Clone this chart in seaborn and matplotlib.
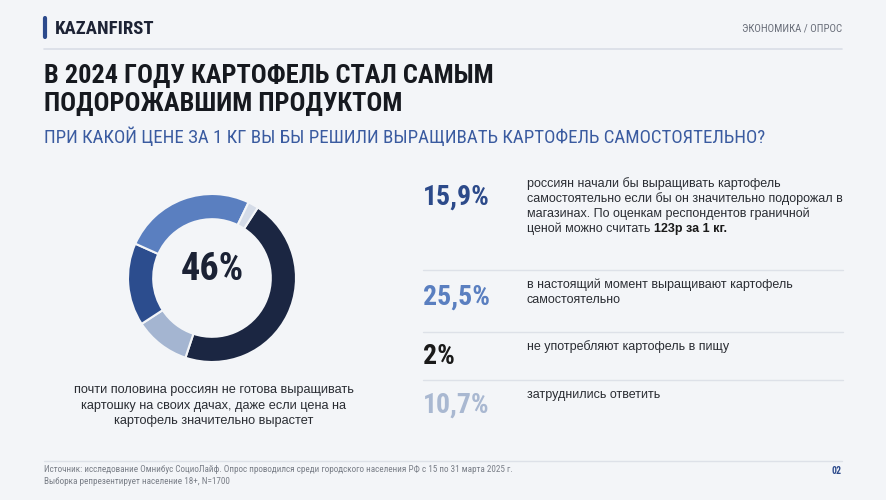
import seaborn as sns
import matplotlib.pyplot as plt

# donut data (clockwise from the dark segment)
donut_labels = ['не готовы', 'затруднились', 'начали бы', 'выращивают', 'не едят']
donut_values = [46, 10.7, 15.9, 25.5, 2]
donut_colors = ['#1b2642', '#a4b5d1', '#2c4d8e', '#5a7fc0', '#d5dce8']

# right panel rows
row_values = [15.9, 25.5, 2, 10.7]
row_colors = ['#2c4a8a', '#5a7fc0', '#1a1a1a', '#a9b8d1']
row_texts = [
    ['россиян начали бы выращивать картофель',
     'самостоятельно если бы он значительно подорожал в',
     'магазинах. По оценкам респондентов граничной',
     'ценой можно считать '],
    ['в настоящий момент выращивают картофель', 'самостоятельно'],
    ['не употребляют картофель в пищу'],
    ['затруднились ответить'],
]
bold_tail = '123р за 1 кг.'

sns.set_theme(style='white')
narrow = 'Roboto Condensed'
plt.rcParams['font.family'] = ['Liberation Sans', 'DejaVu Sans']

BG = '#f3f5f8'
W, H = 886, 500
fig = plt.figure(figsize=(W / 100, H / 100), dpi=100, facecolor=BG)
bg = fig.add_axes([0, 0, 1, 1])
bg.set_xlim(0, W)
bg.set_ylim(H, 0)
bg.axis('off')

# header
bg.plot([45.5, 45.5], [18, 37], color='#2c4a8c', lw=3)
bg.text(55, 28.5, 'KAZANFIRST', fontsize=13.5, fontweight='bold', family=narrow,
        color='#1d2335', va='center')
bg.text(842, 29, 'ЭКОНОМИКА / ОПРОС', fontsize=7.8, family=narrow, color='#6a6f7a',
        va='center', ha='right')
bg.plot([44, 842], [49, 49], color='#d9dee6', lw=1.2)

bg.text(44, 76, 'В 2024 ГОДУ КАРТОФЕЛЬ СТАЛ САМЫМ', fontsize=19, fontweight='bold',
        family=narrow, color='#16191f', va='center')
bg.text(44, 104, 'ПОДОРОЖАВШИМ ПРОДУКТОМ', fontsize=19, fontweight='bold',
        family=narrow, color='#16191f', va='center')
bg.text(44, 137, 'ПРИ КАКОЙ ЦЕНЕ ЗА 1 КГ ВЫ БЫ РЕШИЛИ ВЫРАЩИВАТЬ КАРТОФЕЛЬ САМОСТОЯТЕЛЬНО?',
        fontsize=13.6, family=narrow, color='#3a5ba0', va='center')

# donut
cx, cy, r = 212, 278, 84
ax = fig.add_axes([(cx - r) / W, 1 - (cy + r) / H, 2 * r / W, 2 * r / H])
ax.pie(donut_values, colors=donut_colors, startangle=57, counterclock=False,
       wedgeprops=dict(width=0.3, edgecolor=BG, linewidth=1.5))
ax.set_xlim(-1, 1)
ax.set_ylim(-1, 1)
ax.set_aspect('equal')
ax.axis('off')
ax.text(0, 0.1, f'{donut_values[0]}%', fontsize=27.5, fontweight='bold', family=narrow,
        color='#1b2235', ha='center', va='center')

caption = ['почти половина россиян не готова выращивать',
           'картошку на своих дачах, даже если цена на',
           'картофель значительно вырастет']
for i, line in enumerate(caption):
    bg.text(214, 390 + i * 15.5, line, fontsize=9.2, color='#2a2d33', ha='center', va='center')

# right panel
row_y = [197, 297, 357, 405]
text_y = [184, 285, 347, 395]
for k, (v, c, lines) in enumerate(zip(row_values, row_colors, row_texts)):
    label = f'{v:g}%'.replace('.', ',')
    bg.text(423, row_y[k], label, fontsize=20, family=narrow, fontweight='bold',
            color=c, va='center')
    for j, line in enumerate(lines):
        t = bg.text(527, text_y[k] + j * 15, line, fontsize=9.0, color='#2a2d33',
                    va='center')
    if k == 0:
        bg.annotate(bold_tail, xy=(1, 0), xycoords=t, fontsize=9.0, fontweight='bold',
                    color='#1a1a1a', va='bottom', ha='left')
for y in [270, 332, 380]:
    bg.plot([423, 843], [y, y], color='#dde1e8', lw=1)

# footer
bg.plot([44, 842], [461, 461], color='#dde1e8', lw=1)
bg.text(44, 470, 'Источник: исследование Омнибус СоциоЛайф. Опрос проводился среди городского '
        'населения РФ с 15 по 31 марта 2025 г.', fontsize=6.6, family=narrow,
        color='#7a7f88', va='center')
bg.text(44, 482, 'Выборка репрезентирует население 18+, N=1700', fontsize=6.6,
        family=narrow, color='#7a7f88', va='center')
bg.text(842, 471, '02', fontsize=7, fontweight='bold', family=narrow,
        color='#2c4a8c', va='center', ha='right')

plt.savefig('out.png', dpi=100, facecolor=BG)
plt.close()
